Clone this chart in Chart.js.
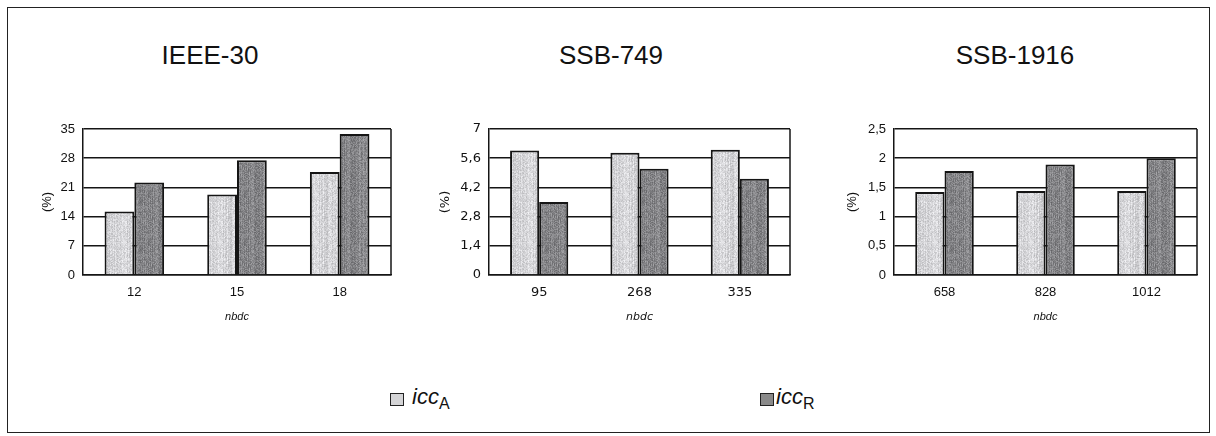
<!DOCTYPE html>
<html>
<head>
<meta charset="utf-8">
<title>icc by system</title>
<script src="https://cdn.jsdelivr.net/npm/chart.js@4.4.1/dist/chart.umd.min.js"></script>
<style>
  html, body { margin: 0; padding: 0; background: #fff; width: 1216px; height: 436px; overflow: hidden; }
  #frame { position: absolute; left: 7px; top: 7px; width: 1203px; height: 426px; border: 1.5px solid #222; box-sizing: border-box; }
  .panel { position: absolute; }
  .ttl { position: absolute; font-family: "Liberation Sans", Arial, sans-serif; font-size: 26px; color: #111;
         transform: translate(-50%, -50%); white-space: nowrap; }
  .leg { position: absolute; font-family: "Liberation Sans", Arial, sans-serif; font-size: 22px; font-style: italic; color: #111; white-space: nowrap; }
  .leg sub { font-size: 16px; font-style: normal; vertical-align: -5px; }
  .sw { position: absolute; width: 14px; height: 13px; border: 1.5px solid #222; box-sizing: border-box; }
</style>
</head>
<body>
<div id="frame"></div>

<script>
// ---- data -------------------------------------------------------------
const systems = ['IEEE-30', 'SSB-749', 'SSB-1916'];

const nbdc30   = ['12', '15', '18'];
const nbdc749  = ['95', '268', '335'];
const nbdc1916 = ['658', '828', '1012'];

const iccA30   = [15.2, 19.3, 24.7];
const iccR30   = [22.2, 27.5, 33.8];
const iccA749  = [5.97, 5.86, 6.01];
const iccR749  = [3.50, 5.09, 4.62];
const iccA1916 = [1.42, 1.44, 1.44];
const iccR1916 = [1.78, 1.89, 2.00];

const yTicks30   = ['0', '7', '14', '21', '28', '35'];
const yTicks749  = ['0', '1,4', '2,8', '4,2', '5,6', '7'];
const yTicks1916 = ['0', '0,5', '1', '1,5', '2', '2,5'];

const seriesNames = ['icc', 'icc'];
const seriesSubs  = ['A', 'R'];

// ---- stippled fills ----------------------------------------------------
function stipple(base, spread, seed) {
  const c = document.createElement('canvas');
  c.width = 48; c.height = 48;
  const g = c.getContext('2d');
  const img = g.createImageData(48, 48);
  let s = seed;
  const rnd = () => { s = (s * 1103515245 + 12345) & 0x7fffffff; return s / 0x7fffffff; };
  // column streaks give the grain a faint vertical direction
  const cols = [];
  for (let x = 0; x < 48; x++) cols.push((rnd() - 0.5) * spread * 0.6);
  for (let y = 0; y < 48; y++) {
    for (let x = 0; x < 48; x++) {
      const v = base + cols[x] + (rnd() - 0.5) * spread;
      const i = (y * 48 + x) * 4;
      img.data[i] = v; img.data[i + 1] = v; img.data[i + 2] = v + 3; img.data[i + 3] = 255;
    }
  }
  g.putImageData(img, 0, 0);
  return g.createPattern(c, 'repeat');
}
const lightFill = stipple(212, 40, 7);
const darkFill  = stipple(136, 46, 31);

// ---- panels ------------------------------------------------------------
const panels = [
  { name: systems[0], labels: nbdc30,   a: iccA30,   r: iccR30,   ticks: yTicks30,   max: 35,  step: 7,
    left: 83,  right: 391, font: '"Liberation Sans", Arial, sans-serif', ytPad: 17, titleX: 210 },
  { name: systems[1], labels: nbdc749,  a: iccA749,  r: iccR749,  ticks: yTicks749,  max: 7,   step: 1.4,
    left: 489, right: 790, font: '"DejaVu Sans", Verdana, sans-serif',   ytPad: 9, titleX: 611 },
  { name: systems[2], labels: nbdc1916, a: iccA1916, r: iccR1916, ticks: yTicks1916, max: 2.5, step: 0.5,
    left: 894, right: 1197, font: '"Liberation Sans", Arial, sans-serif', ytPad: 11, titleX: 1015 }
];

const AXIS_W = 60;      // fixed width of the value axis
const TOP = 110, PAD_TOP = 19, PLOT_H = 146, XAXIS_H = 55, PAD_R = 4;
const INK = '#151515';

panels.forEach((p) => {
  const ttl = document.createElement('div');
  ttl.className = 'ttl';
  ttl.textContent = p.name;
  ttl.style.left = p.titleX + 'px';
  ttl.style.top = '55px';
  document.body.appendChild(ttl);

  const w = (p.right - p.left) + AXIS_W + PAD_R;
  const h = PAD_TOP + PLOT_H + XAXIS_H;
  const box = document.createElement('div');
  box.className = 'panel';
  box.style.left = (p.left - AXIS_W) + 'px';
  box.style.top = TOP + 'px';
  box.style.width = w + 'px';
  box.style.height = h + 'px';
  const cv = document.createElement('canvas');
  box.appendChild(cv);
  document.body.appendChild(box);

  new Chart(cv, {
    type: 'bar',
    data: {
      labels: p.labels,
      datasets: [
        { label: 'iccA', data: p.a, backgroundColor: lightFill, borderColor: INK, borderWidth: 2,
          barPercentage: 1.0, categoryPercentage: 0.58 },
        { label: 'iccR', data: p.r, backgroundColor: darkFill,  borderColor: INK, borderWidth: 2,
          barPercentage: 1.0, categoryPercentage: 0.58 }
      ]
    },
    options: {
      responsive: true,
      maintainAspectRatio: false,
      animation: false,
      devicePixelRatio: 1,
      layout: { padding: { top: PAD_TOP, right: PAD_R, bottom: 0, left: 0 } },
      plugins: { legend: { display: false }, tooltip: { enabled: false }, title: { display: false } },
      scales: {
        x: {
          grid: { display: false, drawTicks: false },
          border: { display: true, color: INK, width: 1.5 },
          ticks: { color: '#111', padding: 10, font: { family: p.font, size: 13 } },
          title: { display: true, text: 'nbdc', color: '#111', padding: { top: 0, bottom: 6 },
                   font: { family: p.font, size: 11, style: 'italic' } },
          afterFit: s => { s.height = XAXIS_H; }
        },
        y: {
          min: 0, max: p.max,
          grid: { color: INK, lineWidth: 1.5, drawTicks: false },
          border: { display: true, color: INK, width: 1.5 },
          ticks: { stepSize: p.step, color: '#111', padding: 8, font: { family: p.font, size: 13 },
                   callback: (v, i) => p.ticks[i] },
          title: { display: true, text: '(%)', color: '#111', padding: { top: p.ytPad, bottom: 0 },
                   font: { family: p.font, size: 13 } },
          afterFit: s => { s.width = AXIS_W; }
        }
      }
    },
    plugins: [{
      id: 'rightEdge',
      afterDraw(chart) {
        const { ctx, chartArea: a } = chart;
        ctx.save();
        ctx.strokeStyle = INK;
        ctx.lineWidth = 1.5;
        ctx.beginPath();
        ctx.moveTo(a.right, a.top);
        ctx.lineTo(a.right, a.bottom);
        ctx.stroke();
        ctx.restore();
      }
    }]
  });
});

// ---- legend ------------------------------------------------------------
const legendPos = [{ sw: 390, tx: 412 }, { sw: 760, tx: 776 }];
const fills = ['#d4d4d6', '#8a8a8a'];
legendPos.forEach((lp, i) => {
  const sw = document.createElement('div');
  sw.className = 'sw';
  sw.style.left = lp.sw + 'px';
  sw.style.top = '393px';
  sw.style.background = fills[i];
  document.body.appendChild(sw);
  const t = document.createElement('div');
  t.className = 'leg';
  t.style.left = lp.tx + 'px';
  t.style.top = '384px';
  t.innerHTML = seriesNames[i] + '<sub>' + seriesSubs[i] + '</sub>';
  document.body.appendChild(t);
});
</script>
</body>
</html>
